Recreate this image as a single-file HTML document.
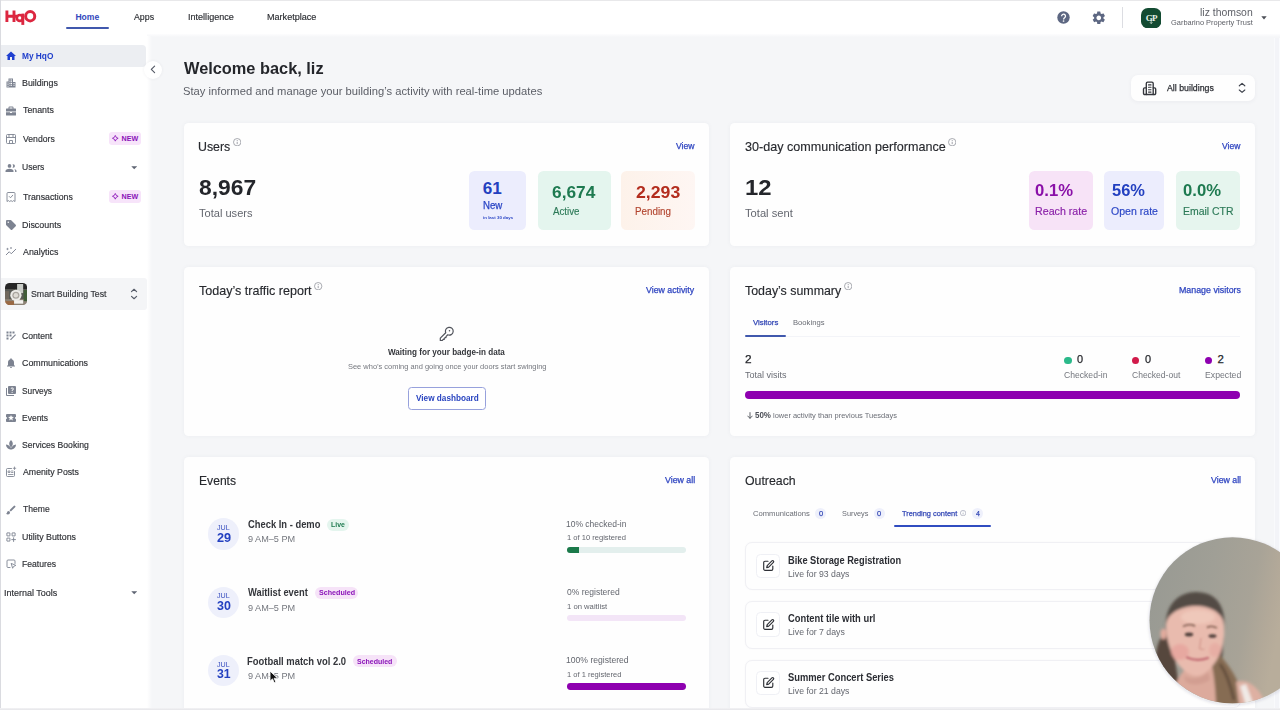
<!DOCTYPE html>
<html>
<head>
<meta charset="utf-8">
<title>HqO</title>
<style>
*{box-sizing:border-box;margin:0;padding:0}
html,body{width:1280px;height:710px;overflow:hidden;background:#f5f6f8;font-family:"Liberation Sans",sans-serif}
#root{position:relative;width:1280px;height:710px;overflow:hidden;background:#f5f6f8}
.a{position:absolute}
.a>svg{display:block}
.t{position:absolute;white-space:nowrap;transform-origin:0 50%}
.card{position:absolute;background:#fefefe;border-radius:4.500px;box-shadow:0 0 4px rgba(60,70,100,.05)}
</style>
</head>
<body>
<div id="root">
<div class="a" style="left:0;top:0;width:1280px;height:33.500px;background:#fff;border-top:1px solid #e8e8ea"></div>
<div class="a" style="left:0;top:33.500px;width:1280px;height:3px;background:linear-gradient(#fdfdfe,#f5f6f8)"></div>
<svg class="a" style="left:5px;top:9.400px" width="33" height="17" viewBox="5 9 33 17">
 <g fill="none" stroke="#dc2740" stroke-width="2.900">
  <path d="M6.900 10.400V22.100M14 10.400V22.100M6.900 16.300H17"/>
  <path d="M22.800 13.600V24.900"/>
  <ellipse cx="19.800" cy="17.900" rx="3" ry="2.900" stroke-width="2.700"/>
  <ellipse cx="30.200" cy="16.250" rx="4.550" ry="4.650" stroke-width="3"/>
 </g></svg>
<div class="t" style="left:75.40px;top:11.35px;font-size:8.57px;line-height:12px;font-weight:bold;color:#3348bd;transform:scaleX(1.0000)">Home</div>
<div class="a" style="left:66px;top:27.200px;width:42.800px;height:1.800px;background:#4058ad;border-radius:1px"></div>
<div class="t" style="left:133.80px;top:11.35px;font-size:8.57px;line-height:12px;font-weight:normal;-webkit-text-stroke:.15px;color:#2d2f34;transform:scaleX(1.0286)">Apps</div>
<div class="t" style="left:187.51px;top:11.35px;font-size:8.57px;line-height:12px;font-weight:normal;-webkit-text-stroke:.15px;color:#2d2f34;transform:scaleX(1.0580)">Intelligence</div>
<div class="t" style="left:266.77px;top:11.35px;font-size:8.57px;line-height:12px;font-weight:normal;-webkit-text-stroke:.15px;color:#2d2f34;transform:scaleX(1.0587)">Marketplace</div>
<svg class="a" style="left:1057px;top:11px" width="13" height="13" viewBox="0 0 13 13"><circle cx="6.500" cy="6.500" r="6.200" fill="#5d6782"/><path d="M4.600 5.200a1.950 1.950 0 1 1 3 1.600c-.7.500-1 .8-1 1.600" fill="none" stroke="#fff" stroke-width="1.300"/><circle cx="6.550" cy="10" r=".85" fill="#fff"/></svg>
<svg class="a" style="left:1090.900px;top:9.600px" width="15.600" height="15.600" viewBox="0 0 24 24"><path fill="#5d6782" d="M19.140 12.940c.04-.3.060-.610.060-.940 0-.320-.020-.640-.070-.940l2.030-1.580a.490.490 0 0 0 .120-.610l-1.920-3.320a.488.488 0 0 0-.590-.220l-2.390.960c-.5-.380-1.030-.7-1.620-.940l-.360-2.540a.484.484 0 0 0-.480-.410h-3.840c-.240 0-.430.170-.470.410l-.360 2.540c-.590.240-1.130.570-1.620.940l-2.390-.960c-.220-.080-.470 0-.590.220L2.740 8.870c-.120.210-.080.470.120.610l2.030 1.580c-.050.3-.090.630-.090.940s.020.640.070.940l-2.030 1.580a.490.490 0 0 0-.120.610l1.920 3.320c.12.220.370.290.590.220l2.390-.960c.5.380 1.030.7 1.620.940l.360 2.540c.050.240.240.410.480.410h3.840c.240 0 .440-.170.470-.410l.360-2.540c.590-.240 1.130-.560 1.620-.940l2.390.960c.220.080.470 0 .590-.220l1.920-3.320c.12-.220.070-.470-.120-.610l-2.010-1.580zM12 15.600c-1.980 0-3.600-1.620-3.600-3.600s1.620-3.600 3.600-3.600 3.600 1.620 3.600 3.600-1.620 3.600-3.600 3.600z"/></svg>
<div class="a" style="left:1121.600px;top:6.500px;width:1.200px;height:21.500px;background:#dcdde2"></div>
<svg class="a" style="left:1140.800px;top:7.500px" width="20.400" height="20.400" viewBox="0 0 20.400 20.400"><rect width="20.400" height="20.400" rx="7" fill="#134b32"/><text x="10.200" y="12.900" text-anchor="middle" font-family="Liberation Serif" font-weight="bold" font-size="9" fill="#e6f2e8" letter-spacing="-.7">GP</text><path d="M10.200 12.300v3.200M9 14.300l1.200 1.300 1.200-1.300" stroke="#e9f1ea" stroke-width=".7" fill="none"/></svg>
<div class="t" style="left:1200.32px;top:4.75px;font-size:11.43px;line-height:15px;font-weight:normal;color:#5f6168;transform:scaleX(0.9120)">liz thomson</div>
<div class="t" style="left:1170.53px;top:17.05px;font-size:7.86px;line-height:11px;font-weight:normal;color:#5f6168;transform:scaleX(0.9453)">Garbarino Property Trust</div>
<svg class="a" style="left:1260.500px;top:15.800px" width="6" height="4" viewBox="0 0 6 4"><path d="M.3 .3h5.400L3 3.500z" fill="#4c4f57"/></svg>
<div class="a" style="left:0;top:33.500px;width:147px;height:676.500px;background:#fff"></div>
<div class="a" style="left:147px;top:36px;width:5px;height:674px;background:linear-gradient(90deg,#fff,#f5f6f8)"></div>
<div class="a" style="left:0;top:0;width:1px;height:710px;background:#dadbe0"></div>
<div class="a" style="left:1px;top:45px;width:145.400px;height:21.500px;background:#eceef2;border-radius:0 4px 4px 0"></div>
<div class="a" style="left:5.2px;top:50px;width:12px;height:12px"><svg width="12" height="12" viewBox="0 0 24 24"><path fill="#1f3fd0" d="M10 20v-6h4v6h5v-8h3L12 3 2 12h3v8z"/></svg></div>
<div class="t" style="left:22.11px;top:49.85px;font-size:8.57px;line-height:12px;font-weight:bold;color:#1f3ecb;transform:scaleX(0.9714)">My HqO</div>
<div class="a" style="left:5.2px;top:77.2px;width:12px;height:12px"><svg width="12" height="12" viewBox="0 0 24 24"><path fill="#7d8391" d="M7 3h9v7h5v11H3V9h4zm2 2v2h2V5zm3 0v2h2V5zM9 8.500v2h2v-2zm3 0v2h2v-2zM5 11v2h2v-2zm0 3.500v2h2v-2zM9 12v2h2v-2zm3 0v2h2v-2zm5 0v2h2v-2zm0 3.500v2h2v-2zM9 15.500v2h2v-2zm3 0v2h2v-2zM5 18v1.500h2V18z" fill-rule="evenodd"/></svg></div>
<div class="t" style="left:22.08px;top:76.85px;font-size:8.57px;line-height:12px;font-weight:normal;-webkit-text-stroke:.15px;color:#2d2f34;transform:scaleX(1.0324)">Buildings</div>
<div class="a" style="left:5.2px;top:104.7px;width:12px;height:12px"><svg width="12" height="12" viewBox="0 0 24 24"><path fill="#7d8391" d="M9 3h6a2 2 0 0 1 2 2v2h4a1 1 0 0 1 1 1v5H2V8a1 1 0 0 1 1-1h4V5a2 2 0 0 1 2-2zm0 2v2h6V5zM2 14.500h8V16h4v-1.500h8V20a1 1 0 0 1-1 1H3a1 1 0 0 1-1-1z" fill-rule="evenodd"/></svg></div>
<div class="t" style="left:22.60px;top:104.35px;font-size:8.57px;line-height:12px;font-weight:normal;-webkit-text-stroke:.15px;color:#2d2f34;transform:scaleX(1.0286)">Tenants</div>
<div class="a" style="left:5.2px;top:132.6px;width:12px;height:12px"><svg width="12" height="12" viewBox="0 0 24 24" fill="none" stroke="#7d8391" stroke-width="1.800"><rect x="3" y="3" width="18" height="18" rx="2"/><path d="M3 9h18M8 3v6M16 3v6M9 21v-6h6v6"/></svg></div>
<div class="t" style="left:22.60px;top:132.55px;font-size:8.57px;line-height:12px;font-weight:normal;-webkit-text-stroke:.15px;color:#2d2f34;transform:scaleX(1.0112)">Vendors</div>
<div class="a" style="left:109.300px;top:132.4px;width:31.700px;height:12.300px;border-radius:3px;background:#f7e4fa"></div>
<div class="a" style="left:112.200px;top:135.25px;width:6.600px;height:6.600px"><svg width="6.600" height="6.600" viewBox="0 0 10 10"><path d="M5 .7Q5.700 4.300 9.300 5 5.700 5.700 5 9.300 4.300 5.700 .7 5 4.300 4.300 5 .7z" fill="none" stroke="#8a12b8" stroke-width="1.300" stroke-linejoin="round"/></svg></div>
<div class="t" style="left:121.50px;top:134.05px;font-size:7.14px;line-height:10px;font-weight:bold;color:#8a12b8;transform:scaleX(1.0000)">NEW</div>
<div class="a" style="left:5.2px;top:161.7px;width:12px;height:12px"><svg width="12" height="12" viewBox="0 0 24 24"><path fill="#7d8391" d="M9 11.500a3.700 3.700 0 1 0 0-7.400 3.700 3.700 0 0 0 0 7.400zm0 2c-2.800 0-8 1.400-8 4.100V20h16v-2.400c0-2.700-5.200-4.100-8-4.100zm7.300-2a3.400 3.400 0 0 0 0-7.200c-.4 0-.8.100-1.200.2a5.400 5.400 0 0 1 0 6.800c.4.100.8.200 1.200.2zm2.200 2.400c1 .9 1.700 2 1.700 3.500V20H23v-2.400c0-2-2.400-3.200-4.500-3.700z"/></svg></div>
<div class="t" style="left:22.10px;top:161.45px;font-size:8.57px;line-height:12px;font-weight:normal;-webkit-text-stroke:.15px;color:#2d2f34;transform:scaleX(1.0023)">Users</div>
<svg class="a" style="left:130.7px;top:166.1px" width="6.400" height="3.600" viewBox="0 0 6.400 3.600"><path d="M.3 .3h5.800L3.200 3.300z" fill="#5f6573"/></svg>
<div class="a" style="left:5.2px;top:191px;width:12px;height:12px"><svg width="12" height="12" viewBox="0 0 24 24" fill="none" stroke="#7d8391" stroke-width="1.800" stroke-linejoin="round"><path d="M4 21V5a2 2 0 0 1 2-2h12a2 2 0 0 1 2 2v16l-2.700-1.800L14.700 21 12 19.200 9.300 21l-2.600-1.800z"/><path d="M8.500 11l2.500 2.500 4.500-5" stroke-linecap="round"/></svg></div>
<div class="t" style="left:22.60px;top:190.55px;font-size:8.57px;line-height:12px;font-weight:normal;-webkit-text-stroke:.15px;color:#2d2f34;transform:scaleX(1.0227)">Transactions</div>
<div class="a" style="left:109.300px;top:190.3px;width:31.700px;height:12.300px;border-radius:3px;background:#f7e4fa"></div>
<div class="a" style="left:112.200px;top:193.15px;width:6.600px;height:6.600px"><svg width="6.600" height="6.600" viewBox="0 0 10 10"><path d="M5 .7Q5.700 4.300 9.300 5 5.700 5.700 5 9.300 4.300 5.700 .7 5 4.300 4.300 5 .7z" fill="none" stroke="#8a12b8" stroke-width="1.300" stroke-linejoin="round"/></svg></div>
<div class="t" style="left:121.50px;top:191.95px;font-size:7.14px;line-height:10px;font-weight:bold;color:#8a12b8;transform:scaleX(1.0000)">NEW</div>
<div class="a" style="left:5.2px;top:218.7px;width:12px;height:12px"><svg width="12" height="12" viewBox="0 0 24 24"><path fill="#7d8391" d="M21.400 11.600l-9-9A2 2 0 0 0 11 2H4a2 2 0 0 0-2 2v7c0 .6.200 1.100.6 1.400l9 9a2 2 0 0 0 2.800 0l7-7a2 2 0 0 0 0-2.800zM6.500 8A1.500 1.500 0 1 1 6.500 5a1.500 1.500 0 0 1 0 3z"/></svg></div>
<div class="t" style="left:22.08px;top:218.55px;font-size:8.57px;line-height:12px;font-weight:normal;-webkit-text-stroke:.15px;color:#2d2f34;transform:scaleX(1.0405)">Discounts</div>
<div class="a" style="left:5.2px;top:246px;width:12px;height:12px"><svg width="12" height="12" viewBox="0 0 24 24" fill="none" stroke="#7d8391" stroke-width="1.900" stroke-linecap="round" stroke-linejoin="round"><path d="M2.500 17.500l6-6 4 4 9-9"/><path d="M5 4.500v3M3.500 6h3M12 3v2M11 4h2" stroke-width="1.400"/></svg></div>
<div class="t" style="left:22.60px;top:245.85px;font-size:8.57px;line-height:12px;font-weight:normal;-webkit-text-stroke:.15px;color:#2d2f34;transform:scaleX(1.0324)">Analytics</div>
<div class="a" style="left:1px;top:278.200px;width:146px;height:31.700px;background:#f4f5f7;border-radius:0 3px 3px 0"></div>
<svg class="a" style="left:4.800px;top:282.700px" width="22.200" height="22.200" viewBox="0 0 22 22">
 <defs><clipPath id="thc"><rect width="22" height="22" rx="4.500"/></clipPath><filter id="thb"><feGaussianBlur stdDeviation=".55"/></filter></defs>
 <g clip-path="url(#thc)"><g filter="url(#thb)">
  <rect x="-2" y="-2" width="26" height="26" fill="#595a54"/>
  <rect x="-2" y="-2" width="26" height="8" fill="#262827"/>
  <rect x="12" y="1" width="6" height="9" fill="#c9ccc8"/>
  <rect x="-2" y="8" width="6" height="9" fill="#6f685d"/>
  <rect x="-2" y="16" width="26" height="8" fill="#8d8376"/>
  <rect x="0" y="18" width="9" height="5" fill="#9a6a45"/>
  <rect x="18.500" y="7" width="5" height="11" fill="#3f5c38"/>
  <circle cx="10.800" cy="12.200" r="5.600" fill="#ecebe8"/>
  <circle cx="10.800" cy="12.200" r="3.500" fill="#a9a59f"/>
  <circle cx="10.800" cy="12.200" r="2.200" fill="#dedbd5"/>
  <rect x="9" y="17" width="9" height="3.500" fill="#f3f2ef"/>
 </g></g></svg>
<div class="t" style="left:31.44px;top:287.65px;font-size:8.57px;line-height:12px;font-weight:normal;-webkit-text-stroke:.15px;color:#303237;transform:scaleX(1.0259)">Smart Building Test</div>
<svg class="a" style="left:130px;top:287px" width="8" height="14" viewBox="0 0 8 14" fill="none" stroke="#555b68" stroke-width="1.150" stroke-linecap="round" stroke-linejoin="round"><path d="M1.500 4.700L4.050 2.250l2.550 2.450M1.500 9.300l2.550 2.450 2.550-2.450"/></svg>
<div class="a" style="left:5.2px;top:330px;width:12px;height:12px"><svg width="12" height="12" viewBox="0 0 24 24"><g fill="#7d8391"><rect x="3" y="3" width="4" height="4"/><rect x="9" y="3" width="4" height="4"/><rect x="15" y="3" width="4" height="4"/><rect x="3" y="9" width="4" height="4"/><rect x="9" y="9" width="4" height="4"/><rect x="3" y="15" width="4" height="4"/><path d="M20.300 8.500l1.700 1.700-9.800 9.800H10.500v-1.700z"/></g></svg></div>
<div class="t" style="left:22.35px;top:329.85px;font-size:8.57px;line-height:12px;font-weight:normal;-webkit-text-stroke:.15px;color:#2d2f34;transform:scaleX(1.0084)">Content</div>
<div class="a" style="left:5.2px;top:357.3px;width:12px;height:12px"><svg width="12" height="12" viewBox="0 0 24 24"><path fill="#7d8391" d="M12 22a2 2 0 0 0 2-2h-4a2 2 0 0 0 2 2zm6-6v-5c0-3.100-1.600-5.600-4.500-6.300V4a1.500 1.500 0 0 0-3 0v.7C7.600 5.400 6 7.900 6 11v5l-2 2v1h16v-1z"/></svg></div>
<div class="t" style="left:22.34px;top:357.05px;font-size:8.57px;line-height:12px;font-weight:normal;-webkit-text-stroke:.15px;color:#2d2f34;transform:scaleX(1.0356)">Communications</div>
<div class="a" style="left:5.2px;top:384.5px;width:12px;height:12px"><svg width="12" height="12" viewBox="0 0 24 24"><path fill="#7d8391" d="M4 6H2v14a2 2 0 0 0 2 2h14v-2H4zm16-4H8a2 2 0 0 0-2 2v12a2 2 0 0 0 2 2h12a2 2 0 0 0 2-2V4a2 2 0 0 0-2-2zm-5.800 13.800a1.100 1.100 0 1 1 0-2.200 1.100 1.100 0 0 1 0 2.200zm2.500-6.100c-.7.900-1.500 1.300-1.700 2.400h-1.700c.1-1.700 1-2.300 1.700-3.100.5-.5.800-1 .6-1.700a1.300 1.300 0 0 0-2.500.3h-1.800a3.100 3.100 0 0 1 6.100-.3c.2 1-.1 1.800-.7 2.500z"/></svg></div>
<div class="t" style="left:22.36px;top:384.55px;font-size:8.57px;line-height:12px;font-weight:normal;-webkit-text-stroke:.15px;color:#2d2f34;transform:scaleX(0.9705)">Surveys</div>
<div class="a" style="left:5.2px;top:411.7px;width:12px;height:12px"><svg width="12" height="12" viewBox="0 0 24 24"><path fill="#7d8391" d="M20 12c0-1.100.9-2 2-2V6a2 2 0 0 0-2-2H4a2 2 0 0 0-2 2v4a2 2 0 0 1 0 4v4c0 1.100.9 2 2 2h16a2 2 0 0 0 2-2v-4a2 2 0 0 1-2-2zm-4.400 4.800L12 14.500l-3.600 2.300 1.100-4.100-3.300-2.700 4.300-.3L12 5.800l1.600 3.900 4.300.3-3.300 2.700z"/></svg></div>
<div class="t" style="left:22.10px;top:411.75px;font-size:8.57px;line-height:12px;font-weight:normal;-webkit-text-stroke:.15px;color:#2d2f34;transform:scaleX(0.9922)">Events</div>
<div class="a" style="left:5.2px;top:439px;width:12px;height:12px"><svg width="12" height="12" viewBox="0 0 24 24"><path fill="#7d8391" d="M12 2c2.400 2.300 3.600 5 3.600 7.600 0 1.800-.6 3.400-1.500 4.700-.6.900-1.400 1.600-2.100 2.100-.7-.5-1.500-1.200-2.100-2.100a8.300 8.300 0 0 1-1.500-4.700C8.400 7 9.600 4.300 12 2zM2 11c3.600 0 6.700 2 8.500 4.900.4.700.9 1.200 1.500 1.700.6-.5 1.100-1 1.500-1.700A10 10 0 0 1 22 11c0 5.500-4.500 10-10 10S2 16.500 2 11z"/></svg></div>
<div class="t" style="left:22.35px;top:439.15px;font-size:8.57px;line-height:12px;font-weight:normal;-webkit-text-stroke:.15px;color:#2d2f34;transform:scaleX(1.0092)">Services Booking</div>
<div class="a" style="left:5.2px;top:466.3px;width:12px;height:12px"><svg width="12" height="12" viewBox="0 0 24 24" fill="none" stroke="#7d8391" stroke-width="1.800" stroke-linecap="round" stroke-linejoin="round"><path d="M13 5H5a2 2 0 0 0-2 2v12a2 2 0 0 0 2 2h12a2 2 0 0 0 2-2v-8"/><path d="M7 10h3v3H7zM13 10h3M13 13h3M7 17h9" stroke-width="1.600"/><path d="M19 2v5M16.500 4.500h5" stroke-width="1.600"/></svg></div>
<div class="t" style="left:22.60px;top:466.35px;font-size:8.57px;line-height:12px;font-weight:normal;-webkit-text-stroke:.15px;color:#2d2f34;transform:scaleX(1.0220)">Amenity Posts</div>
<div class="a" style="left:5.2px;top:503.6px;width:12px;height:12px"><svg width="12" height="12" viewBox="0 0 24 24"><path fill="#7d8391" d="M7 14a3 3 0 0 0-3 3c0 1.300-1.200 2-2 2 .9 1.200 2.500 2 4 2a4 4 0 0 0 4-4 3 3 0 0 0-3-3zm13.700-9.400l-1.300-1.300a1 1 0 0 0-1.400 0L9 12.300 11.700 15l9-9a1 1 0 0 0 0-1.400z"/></svg></div>
<div class="t" style="left:22.60px;top:503.35px;font-size:8.57px;line-height:12px;font-weight:normal;-webkit-text-stroke:.15px;color:#2d2f34;transform:scaleX(1.0038)">Theme</div>
<div class="a" style="left:5.2px;top:531px;width:12px;height:12px"><svg width="12" height="12" viewBox="0 0 24 24" fill="none" stroke="#7d8391" stroke-width="1.800"><rect x="3.800" y="3.800" width="6" height="6" rx=".2"/><rect x="14.200" y="3.800" width="6" height="6" rx=".2"/><rect x="3.800" y="14.200" width="6" height="6" rx=".2"/><path d="M17.200 13.500v7.500M13.500 17.200H21" stroke-linecap="round"/></svg></div>
<div class="t" style="left:22.08px;top:530.85px;font-size:8.57px;line-height:12px;font-weight:normal;-webkit-text-stroke:.15px;color:#2d2f34;transform:scaleX(1.0319)">Utility Buttons</div>
<div class="a" style="left:5.2px;top:558.2px;width:12px;height:12px"><svg width="12" height="12" viewBox="0 0 24 24" fill="none" stroke="#7d8391" stroke-width="1.800" stroke-linejoin="round" stroke-linecap="round"><path d="M20 11V6a2 2 0 0 0-2-2H6a2 2 0 0 0-2 2v11a2 2 0 0 0 2 2h4"/><path d="M12.500 11.500l2.800 9 1.900-3.600 3.800-1.800z" /></svg></div>
<div class="t" style="left:22.10px;top:557.95px;font-size:8.57px;line-height:12px;font-weight:normal;-webkit-text-stroke:.15px;color:#2d2f34;transform:scaleX(1.0061)">Features</div>
<div class="t" style="left:4.31px;top:586.65px;font-size:8.57px;line-height:12px;font-weight:normal;-webkit-text-stroke:.15px;color:#2d2f34;transform:scaleX(1.0492)">Internal Tools</div>
<svg class="a" style="left:130.7px;top:591.4px" width="6.400" height="3.600" viewBox="0 0 6.400 3.600"><path d="M.3 .3h5.800L3.200 3.300z" fill="#5f6573"/></svg>
<div class="a" style="left:143.500px;top:60.700px;width:18px;height:18px;border-radius:9px;background:#fff;box-shadow:0 0 3px rgba(60,70,90,.08)"></div>
<svg class="a" style="left:149.600px;top:65.400px" width="6" height="9" viewBox="0 0 6 9" fill="none" stroke="#555a66" stroke-width="1.150" stroke-linecap="round" stroke-linejoin="round"><path d="M4.600 1.100L1.300 4.400l3.300 3.300"/></svg>
<div class="t" style="left:184.00px;top:56.75px;font-size:17.14px;line-height:23px;font-weight:bold;color:#24262b;transform:scaleX(0.9544)">Welcome back, liz</div>
<div class="t" style="left:183.41px;top:84.15px;font-size:11.43px;line-height:15px;font-weight:normal;color:#5b5e66;transform:scaleX(0.9812)">Stay informed and manage your building’s activity with real-time updates</div>
<div class="a" style="left:1130.600px;top:74.700px;width:124.700px;height:26.500px;background:#fefefe;border-radius:7px;box-shadow:0 1px 4px rgba(60,70,100,.06)"></div>
<svg class="a" style="left:1142px;top:80.600px" width="15" height="15" viewBox="0 0 15 15" fill="none" stroke="#34363c" stroke-width="1.350" stroke-linejoin="round" stroke-linecap="round"><path d="M4.300 13.500V2.400a1.300 1.300 0 0 1 1.300-1.300h4.300a1.300 1.300 0 0 1 1.300 1.300V13.500z"/><path d="M4.300 6.800H2.700a1.200 1.200 0 0 0-1.200 1.200v4.300a1.200 1.200 0 0 0 1.200 1.200h1.600M11.200 6.800h1.300a1.200 1.200 0 0 1 1.200 1.200v4.300a1.200 1.200 0 0 1-1.200 1.200h-1.300"/><path d="M6.500 3.900h2.500M6.500 6.300h2.500M6.500 8.700h2.500M6.500 11.100h2.500" stroke-width="1.100"/></svg>
<div class="t" style="left:1166.80px;top:81.65px;font-size:9.29px;line-height:13px;font-weight:normal;-webkit-text-stroke:.25px;color:#2b2d33;transform:scaleX(0.9462)">All buildings</div>
<svg class="a" style="left:1237.800px;top:81px" width="8" height="14" viewBox="0 0 8 14" fill="none" stroke="#3e424c" stroke-width="1.150" stroke-linecap="round" stroke-linejoin="round"><path d="M1.300 4.800L4.050 2.400l2.750 2.400M1.300 9L4.050 11.400 6.800 9"/></svg>
<div class="card" style="left:184.2px;top:122.7px;width:525.1px;height:123.0px"></div>
<div class="t" style="left:198.44px;top:137.85px;font-size:12.86px;line-height:17px;font-weight:normal;-webkit-text-stroke:.15px;color:#27292e;transform:scaleX(0.9612)">Users</div>
<svg class="a" style="left:232.8px;top:138.1px" width="8.4" height="8.4" viewBox="0 0 10 10"><circle cx="5" cy="5" r="4.400" fill="none" stroke="#8e9199" stroke-width=".9"/><path d="M5 4.500v2.800" stroke="#8e9199" stroke-width="1"/><circle cx="5" cy="3" r=".6" fill="#8e9199"/></svg>
<div class="t" style="left:676.10px;top:139.85px;font-size:8.57px;line-height:12px;font-weight:normal;-webkit-text-stroke:.25px;color:#2f45c0;transform:scaleX(1.0054)">View</div>
<div class="t" style="left:198.85px;top:172.25px;font-size:22.86px;line-height:30px;font-weight:bold;color:#24262b;transform:scaleX(0.9982)">8,967</div>
<div class="t" style="left:199.16px;top:205.95px;font-size:11.43px;line-height:15px;font-weight:normal;color:#63666e;transform:scaleX(0.9688)">Total users</div>
<div class="a" style="left:468.6px;top:170.8px;width:57.8px;height:59.4px;border-radius:5.500px;background:#ecedfd"></div>
<div class="t" style="left:482.80px;top:176.75px;font-size:17.14px;line-height:23px;font-weight:bold;color:#2340c0;transform:scaleX(1.0000)">61</div>
<div class="t" style="left:482.58px;top:199.35px;font-size:10px;line-height:13px;font-weight:normal;-webkit-text-stroke:.25px;color:#2a45c5;transform:scaleX(0.9641)">New</div>
<div class="t" style="left:483.05px;top:214.75px;font-size:4.4px;line-height:6px;font-weight:bold;color:#2a45c5;transform:scaleX(1.0034)">in last 30 days</div>
<div class="a" style="left:537.5px;top:171.3px;width:73.2px;height:58.9px;border-radius:5.500px;background:#e4f5ee"></div>
<div class="t" style="left:552.29px;top:180.95px;font-size:17.14px;line-height:23px;font-weight:bold;color:#1e7a50;transform:scaleX(1.0107)">6,674</div>
<div class="t" style="left:552.80px;top:205.05px;font-size:10px;line-height:13px;font-weight:normal;-webkit-text-stroke:.15px;color:#2d7a58;transform:scaleX(0.9741)">Active</div>
<div class="a" style="left:621.300px;top:171.300px;width:73.400px;height:59.200px;border-radius:5.500px;background:linear-gradient(90deg,#fdf2ea,#fef6f3)"></div>
<div class="t" style="left:635.68px;top:180.95px;font-size:17.14px;line-height:23px;font-weight:bold;color:#b32d1e;transform:scaleX(1.0323)">2,293</div>
<div class="t" style="left:635.46px;top:205.05px;font-size:10px;line-height:13px;font-weight:normal;-webkit-text-stroke:.15px;color:#b2452f;transform:scaleX(0.9803)">Pending</div>
<div class="card" style="left:730.4px;top:122.7px;width:525.0px;height:123.0px"></div>
<div class="t" style="left:744.91px;top:137.85px;font-size:12.86px;line-height:17px;font-weight:normal;-webkit-text-stroke:.15px;color:#27292e;transform:scaleX(0.9787)">30-day communication performance</div>
<svg class="a" style="left:947.8px;top:137.7px" width="8.4" height="8.4" viewBox="0 0 10 10"><circle cx="5" cy="5" r="4.400" fill="none" stroke="#8e9199" stroke-width=".9"/><path d="M5 4.500v2.800" stroke="#8e9199" stroke-width="1"/><circle cx="5" cy="3" r=".6" fill="#8e9199"/></svg>
<div class="t" style="left:1222.10px;top:139.85px;font-size:8.57px;line-height:12px;font-weight:normal;-webkit-text-stroke:.25px;color:#2f45c0;transform:scaleX(0.9946)">View</div>
<div class="t" style="left:745.03px;top:172.25px;font-size:22.86px;line-height:30px;font-weight:bold;color:#24262b;transform:scaleX(1.0435)">12</div>
<div class="t" style="left:745.16px;top:205.95px;font-size:11.43px;line-height:15px;font-weight:normal;color:#63666e;transform:scaleX(0.9773)">Total sent</div>
<div class="a" style="left:1028.5px;top:171.3px;width:64.7px;height:58.9px;border-radius:5.500px;background:#f7e3f7"></div>
<div class="t" style="left:1034.87px;top:178.65px;font-size:17.14px;line-height:23px;font-weight:bold;color:#8a10a8;transform:scaleX(0.9722)">0.1%</div>
<div class="t" style="left:1034.80px;top:204.65px;font-size:10px;line-height:13px;font-weight:normal;-webkit-text-stroke:.15px;color:#8a20a8;transform:scaleX(1.0660)">Reach rate</div>
<div class="a" style="left:1104.4px;top:171.3px;width:60.1px;height:58.9px;border-radius:5.500px;background:#ecedfd"></div>
<div class="t" style="left:1111.52px;top:178.65px;font-size:17.14px;line-height:23px;font-weight:bold;color:#2340c0;transform:scaleX(0.9594)">56%</div>
<div class="t" style="left:1111.47px;top:204.65px;font-size:10px;line-height:13px;font-weight:normal;-webkit-text-stroke:.15px;color:#2a45c5;transform:scaleX(1.0560)">Open rate</div>
<div class="a" style="left:1176.1px;top:171.3px;width:64.4px;height:58.9px;border-radius:5.500px;background:#e6f5ee"></div>
<div class="t" style="left:1182.97px;top:178.65px;font-size:17.14px;line-height:23px;font-weight:bold;color:#1e7a50;transform:scaleX(0.9722)">0.0%</div>
<div class="t" style="left:1182.92px;top:204.65px;font-size:10px;line-height:13px;font-weight:normal;-webkit-text-stroke:.15px;color:#2d7a58;transform:scaleX(1.0455)">Email CTR</div>
<div class="card" style="left:184.2px;top:267.2px;width:525.1px;height:169.0px"></div>
<div class="t" style="left:199.26px;top:281.85px;font-size:12.86px;line-height:17px;font-weight:normal;-webkit-text-stroke:.15px;color:#27292e;transform:scaleX(0.9765)">Today’s traffic report</div>
<svg class="a" style="left:314.4px;top:282.1px" width="8.4" height="8.4" viewBox="0 0 10 10"><circle cx="5" cy="5" r="4.400" fill="none" stroke="#8e9199" stroke-width=".9"/><path d="M5 4.500v2.800" stroke="#8e9199" stroke-width="1"/><circle cx="5" cy="3" r=".6" fill="#8e9199"/></svg>
<div class="t" style="left:646.40px;top:284.35px;font-size:8.57px;line-height:12px;font-weight:normal;-webkit-text-stroke:.25px;color:#2f45c0;transform:scaleX(1.0255)">View activity</div>
<svg class="a" style="left:439px;top:326.200px" width="16" height="16" viewBox="0 0 16 16" fill="none" stroke="#50535b" stroke-width="1.200" stroke-linejoin="round" stroke-linecap="round"><path d="M6.730 6.770L1.300 12.200V14.500H3.200L4.300 13.400H5.200V12.500L6.100 11.600H7V10.700L8.730 8.770A3.900 3.900 0 1 0 6.730 6.770Z"/><circle cx="10.500" cy="4.800" r=".75" fill="#50535b" stroke="none"/></svg>
<div class="t" style="left:388.30px;top:346.35px;font-size:8.57px;line-height:12px;font-weight:bold;color:#34363b;transform:scaleX(0.9474)">Waiting for your badge-in data</div>
<div class="t" style="left:347.53px;top:361.35px;font-size:7.86px;line-height:11px;font-weight:normal;color:#74777e;transform:scaleX(0.9489)">See who’s coming and going once your doors start swinging</div>
<div class="a" style="left:407.700px;top:386.600px;width:78.400px;height:23px;border:1px solid #97a1dc;border-radius:3.500px;background:#fff"></div>
<div class="t" style="left:415.86px;top:391.65px;font-size:8.57px;line-height:12px;font-weight:bold;color:#2a45c0;transform:scaleX(0.9575)">View dashboard</div>
<div class="card" style="left:730.4px;top:267.2px;width:525.0px;height:169.0px"></div>
<div class="t" style="left:745.36px;top:281.85px;font-size:12.86px;line-height:17px;font-weight:normal;-webkit-text-stroke:.15px;color:#27292e;transform:scaleX(0.9638)">Today’s summary</div>
<svg class="a" style="left:843.6px;top:282.1px" width="8.4" height="8.4" viewBox="0 0 10 10"><circle cx="5" cy="5" r="4.400" fill="none" stroke="#8e9199" stroke-width=".9"/><path d="M5 4.500v2.800" stroke="#8e9199" stroke-width="1"/><circle cx="5" cy="3" r=".6" fill="#8e9199"/></svg>
<div class="t" style="left:1178.88px;top:284.35px;font-size:8.57px;line-height:12px;font-weight:normal;-webkit-text-stroke:.25px;color:#2f45c0;transform:scaleX(1.0329)">Manage visitors</div>
<div class="t" style="left:753.00px;top:317.15px;font-size:7.86px;line-height:11px;font-weight:normal;-webkit-text-stroke:.25px;color:#3347b5;transform:scaleX(0.9882)">Visitors</div>
<div class="t" style="left:793.47px;top:317.15px;font-size:7.86px;line-height:11px;font-weight:normal;color:#696c74;transform:scaleX(0.9728)">Bookings</div>
<div class="a" style="left:786px;top:336px;width:454px;height:1px;background:#f3f4f8"></div>
<div class="a" style="left:745.100px;top:334.900px;width:40.500px;height:2px;background:#4058ad;border-radius:1px"></div>
<div class="t" style="left:744.88px;top:352.35px;font-size:11.43px;line-height:15px;font-weight:normal;-webkit-text-stroke:.25px;color:#24262b;transform:scaleX(1.0364)">2</div>
<div class="t" style="left:745.14px;top:368.55px;font-size:8.57px;line-height:12px;font-weight:normal;color:#6a6d75;transform:scaleX(1.0538)">Total visits</div>
<div class="a" style="left:1064.4px;top:356.7px;width:7.2px;height:7.2px;border-radius:50%;background:#2bb98a"></div>
<div class="t" style="left:1077.06px;top:352.35px;font-size:11.43px;line-height:15px;font-weight:normal;-webkit-text-stroke:.25px;color:#24262b;transform:scaleX(0.9565)">0</div>
<div class="t" style="left:1064.10px;top:368.55px;font-size:8.57px;line-height:12px;font-weight:normal;color:#74777e;transform:scaleX(1.0036)">Checked-in</div>
<div class="a" style="left:1131.9px;top:356.7px;width:7.2px;height:7.2px;border-radius:50%;background:#d11a4a"></div>
<div class="t" style="left:1144.56px;top:352.35px;font-size:11.43px;line-height:15px;font-weight:normal;-webkit-text-stroke:.25px;color:#24262b;transform:scaleX(0.9565)">0</div>
<div class="t" style="left:1131.60px;top:368.55px;font-size:8.57px;line-height:12px;font-weight:normal;color:#74777e;transform:scaleX(0.9938)">Checked-out</div>
<div class="a" style="left:1205.1px;top:356.7px;width:7.2px;height:7.2px;border-radius:50%;background:#8e00b0"></div>
<div class="t" style="left:1217.50px;top:352.35px;font-size:11.43px;line-height:15px;font-weight:normal;-webkit-text-stroke:.25px;color:#24262b;transform:scaleX(1.0000)">2</div>
<div class="t" style="left:1204.54px;top:368.55px;font-size:8.57px;line-height:12px;font-weight:normal;color:#74777e;transform:scaleX(1.0145)">Expected</div>
<div class="a" style="left:745.200px;top:391px;width:495.200px;height:8px;border-radius:4px;background:#8e00b0"></div>
<svg class="a" style="left:746.500px;top:411.600px" width="6" height="7" viewBox="0 0 6 7" fill="none" stroke="#4d5058" stroke-width=".9" stroke-linecap="round" stroke-linejoin="round"><path d="M3 .6v5.600M.7 4L3 6.300 5.300 4"/></svg>
<div class="t" style="left:755.27px;top:408.65px;font-size:8.57px;line-height:12px;font-weight:bold;color:#4d5058;transform:scaleX(0.9313)">50%</div>
<div class="t" style="left:773.38px;top:410.65px;font-size:7.14px;line-height:10px;font-weight:normal;color:#6a6d75;transform:scaleX(1.0499)">lower activity than previous Tuesdays</div>
<div class="card" style="left:184.2px;top:457.3px;width:525.1px;height:262.7px"></div>
<div class="t" style="left:198.56px;top:472.05px;font-size:12.86px;line-height:17px;font-weight:normal;-webkit-text-stroke:.15px;color:#27292e;transform:scaleX(0.9421)">Events</div>
<div class="t" style="left:664.90px;top:474.35px;font-size:8.57px;line-height:12px;font-weight:normal;-webkit-text-stroke:.25px;color:#2f45c0;transform:scaleX(1.0276)">View all</div>
<div class="a" style="left:207.9px;top:518.4px;width:31.600px;height:31.600px;border-radius:50%;background:#eef0fb"></div>
<div class="t" style="left:217.45px;top:523.25px;font-size:7.14px;line-height:10px;font-weight:normal;color:#3a50c0;transform:scaleX(1.0041)">JUL</div>
<div class="t" style="left:216.58px;top:529.75px;font-size:12.14px;line-height:16px;font-weight:bold;color:#2340c0;transform:scaleX(1.0480)">29</div>
<div class="t" style="left:247.63px;top:518.05px;font-size:10px;line-height:13px;font-weight:bold;color:#34363b;transform:scaleX(0.9377)">Check In - demo</div>
<div class="a" style="left:326.6px;top:519.3px;width:22.1px;height:11.800px;border-radius:6px;background:#e4f5ee"></div>
<div class="t" style="left:330.51px;top:520.35px;font-size:7.14px;line-height:10px;font-weight:bold;color:#1e7a50;transform:scaleX(0.9704)">Live</div>
<div class="t" style="left:247.57px;top:533.45px;font-size:8.57px;line-height:12px;font-weight:normal;color:#74777e;transform:scaleX(1.0651)">9 AM–5 PM</div>
<div class="t" style="left:566.46px;top:517.65px;font-size:8.57px;line-height:12px;font-weight:normal;color:#63666e;transform:scaleX(0.9925)">10% checked-in</div>
<div class="t" style="left:566.67px;top:533.45px;font-size:7.14px;line-height:10px;font-weight:normal;color:#63666e;transform:scaleX(1.0624)">1 of 10 registered</div>
<div class="a" style="left:566.700px;top:546.5px;width:119.600px;height:6.800px;border-radius:3.400px;background:#e3efed;overflow:hidden"><div style="width:12px;height:6.800px;background:#1b7a4a"></div></div>
<div class="a" style="left:207.9px;top:586.5px;width:31.600px;height:31.600px;border-radius:50%;background:#eef0fb"></div>
<div class="t" style="left:217.45px;top:591.35px;font-size:7.14px;line-height:10px;font-weight:normal;color:#3a50c0;transform:scaleX(1.0041)">JUL</div>
<div class="t" style="left:216.84px;top:597.85px;font-size:12.14px;line-height:16px;font-weight:bold;color:#2340c0;transform:scaleX(1.0275)">30</div>
<div class="t" style="left:248.10px;top:586.15px;font-size:10px;line-height:13px;font-weight:bold;color:#34363b;transform:scaleX(0.9328)">Waitlist event</div>
<div class="a" style="left:314.6px;top:586.8px;width:43.9px;height:12.200px;border-radius:6.100px;background:#f6e3f8"></div>
<div class="t" style="left:318.75px;top:588.15px;font-size:7.14px;line-height:10px;font-weight:bold;color:#8a12b8;transform:scaleX(1.0014)">Scheduled</div>
<div class="t" style="left:247.57px;top:601.55px;font-size:8.57px;line-height:12px;font-weight:normal;color:#74777e;transform:scaleX(1.0651)">9 AM–5 PM</div>
<div class="t" style="left:566.95px;top:585.75px;font-size:8.57px;line-height:12px;font-weight:normal;color:#63666e;transform:scaleX(0.9962)">0% registered</div>
<div class="t" style="left:566.66px;top:601.55px;font-size:7.14px;line-height:10px;font-weight:normal;color:#63666e;transform:scaleX(1.0776)">1 on waitlist</div>
<div class="a" style="left:566.700px;top:614.6px;width:119.600px;height:6.800px;border-radius:3.400px;background:#f3e5f7;overflow:hidden"></div>
<div class="a" style="left:207.9px;top:654.9px;width:31.600px;height:31.600px;border-radius:50%;background:#eef0fb"></div>
<div class="t" style="left:217.45px;top:659.75px;font-size:7.14px;line-height:10px;font-weight:normal;color:#3a50c0;transform:scaleX(1.0041)">JUL</div>
<div class="t" style="left:216.85px;top:666.25px;font-size:12.14px;line-height:16px;font-weight:bold;color:#2340c0;transform:scaleX(1.0077)">31</div>
<div class="t" style="left:247.39px;top:654.55px;font-size:10px;line-height:13px;font-weight:bold;color:#34363b;transform:scaleX(0.9427)">Football match vol 2.0</div>
<div class="a" style="left:352.8px;top:655.2px;width:44.4px;height:12.200px;border-radius:6.100px;background:#f6e3f8"></div>
<div class="t" style="left:357.45px;top:656.55px;font-size:7.14px;line-height:10px;font-weight:bold;color:#8a12b8;transform:scaleX(0.9816)">Scheduled</div>
<div class="t" style="left:247.57px;top:669.95px;font-size:8.57px;line-height:12px;font-weight:normal;color:#74777e;transform:scaleX(1.0651)">9 AM–5 PM</div>
<div class="t" style="left:566.45px;top:654.15px;font-size:8.57px;line-height:12px;font-weight:normal;color:#63666e;transform:scaleX(1.0049)">100% registered</div>
<div class="t" style="left:566.67px;top:669.95px;font-size:7.14px;line-height:10px;font-weight:normal;color:#63666e;transform:scaleX(1.0554)">1 of 1 registered</div>
<div class="a" style="left:566.700px;top:683.0px;width:119.600px;height:6.800px;border-radius:3.400px;background:#8e00b0;overflow:hidden"></div>
<svg class="a" style="left:268.500px;top:670px" width="10" height="14" viewBox="0 0 10 14"><path d="M1 1v10.200l2.500-2.300 1.700 3.900 1.700-.8-1.700-3.700h3.500z" fill="#111" stroke="#fff" stroke-width=".9" stroke-linejoin="round"/></svg>
<div class="card" style="left:730.4px;top:457.3px;width:525.0px;height:262.7px"></div>
<div class="t" style="left:744.92px;top:472.05px;font-size:12.86px;line-height:17px;font-weight:normal;-webkit-text-stroke:.15px;color:#27292e;transform:scaleX(0.9585)">Outreach</div>
<div class="t" style="left:1210.90px;top:474.35px;font-size:8.57px;line-height:12px;font-weight:normal;-webkit-text-stroke:.25px;color:#2f45c0;transform:scaleX(1.0241)">View all</div>
<div class="t" style="left:752.51px;top:507.65px;font-size:7.86px;line-height:11px;font-weight:normal;color:#696c74;transform:scaleX(0.9714)">Communications</div>
<div class="a" style="left:814.9px;top:507.6px;width:11.600px;height:11.600px;border-radius:50%;background:#eef0fb"></div>
<div class="t" style="left:818.56px;top:507.75px;font-size:7.86px;line-height:11px;font-weight:normal;-webkit-text-stroke:.25px;color:#3347b5;transform:scaleX(0.9500)">0</div>
<div class="t" style="left:842.13px;top:507.65px;font-size:7.86px;line-height:11px;font-weight:normal;color:#696c74;transform:scaleX(0.9309)">Surveys</div>
<div class="a" style="left:873.5px;top:507.6px;width:11.600px;height:11.600px;border-radius:50%;background:#eef0fb"></div>
<div class="t" style="left:877.16px;top:507.75px;font-size:7.86px;line-height:11px;font-weight:normal;-webkit-text-stroke:.25px;color:#3347b5;transform:scaleX(0.9500)">0</div>
<div class="t" style="left:902.10px;top:507.65px;font-size:7.86px;line-height:11px;font-weight:normal;-webkit-text-stroke:.25px;color:#3347b5;transform:scaleX(0.9413)">Trending content</div>
<svg class="a" style="left:959.6px;top:509.7px" width="6.2" height="6.2" viewBox="0 0 10 10"><circle cx="5" cy="5" r="4.400" fill="none" stroke="#8e93a8" stroke-width=".9"/><path d="M5 4.500v2.800" stroke="#8e93a8" stroke-width="1"/><circle cx="5" cy="3" r=".6" fill="#8e93a8"/></svg>
<div class="a" style="left:971.6px;top:507.6px;width:11.600px;height:11.600px;border-radius:50%;background:#eef0fb"></div>
<div class="t" style="left:975.50px;top:507.75px;font-size:7.86px;line-height:11px;font-weight:normal;-webkit-text-stroke:.25px;color:#3347b5;transform:scaleX(0.8941)">4</div>
<div class="a" style="left:894.100px;top:525.300px;width:97.400px;height:2px;background:#304cc0;border-radius:1px"></div>
<div class="a" style="left:745.300px;top:542.4px;width:495.300px;height:48px;border:1px solid #f0f0f4;border-radius:7px;background:#fefefe;box-shadow:0 0 2px rgba(60,70,100,.03)"></div>
<div class="a" style="left:755.900px;top:553.6px;width:24.600px;height:24.600px;border:1px solid #eff0f5;border-radius:4.500px;background:#fff"></div>
<div class="a" style="left:762.300px;top:559.2px;width:13px;height:13px"><svg width="13" height="13" viewBox="0 0 13 13" fill="none" stroke="#2e3036" stroke-width="1.150" stroke-linejoin="round" stroke-linecap="round"><path d="M6 2.200H3a1.300 1.300 0 0 0-1.300 1.300v6.500A1.300 1.300 0 0 0 3 11.300h6.500a1.300 1.300 0 0 0 1.300-1.300V7"/><path d="M5.200 6.600L9.900 1.900a1 1 0 0 1 1.500 1.500L6.700 8.100l-2 .5z"/></svg></div>
<div class="t" style="left:787.91px;top:553.85px;font-size:10px;line-height:13px;font-weight:bold;color:#2b2d33;transform:scaleX(0.9256)">Bike Storage Registration</div>
<div class="t" style="left:787.84px;top:567.65px;font-size:8.57px;line-height:12px;font-weight:normal;color:#63666e;transform:scaleX(1.0168)">Live for 93 days</div>
<div class="a" style="left:745.300px;top:601px;width:495.300px;height:48px;border:1px solid #f0f0f4;border-radius:7px;background:#fefefe;box-shadow:0 0 2px rgba(60,70,100,.03)"></div>
<div class="a" style="left:755.900px;top:612.2px;width:24.600px;height:24.600px;border:1px solid #eff0f5;border-radius:4.500px;background:#fff"></div>
<div class="a" style="left:762.300px;top:617.8px;width:13px;height:13px"><svg width="13" height="13" viewBox="0 0 13 13" fill="none" stroke="#2e3036" stroke-width="1.150" stroke-linejoin="round" stroke-linecap="round"><path d="M6 2.200H3a1.300 1.300 0 0 0-1.300 1.300v6.500A1.300 1.300 0 0 0 3 11.300h6.500a1.300 1.300 0 0 0 1.300-1.300V7"/><path d="M5.200 6.600L9.900 1.900a1 1 0 0 1 1.500 1.500L6.700 8.100l-2 .5z"/></svg></div>
<div class="t" style="left:788.13px;top:612.45px;font-size:10px;line-height:13px;font-weight:bold;color:#2b2d33;transform:scaleX(0.9366)">Content tile with url</div>
<div class="t" style="left:787.83px;top:626.25px;font-size:8.57px;line-height:12px;font-weight:normal;color:#63666e;transform:scaleX(1.0202)">Live for 7 days</div>
<div class="a" style="left:745.300px;top:659.5px;width:495.300px;height:48px;border:1px solid #f0f0f4;border-radius:7px;background:#fefefe;box-shadow:0 0 2px rgba(60,70,100,.03)"></div>
<div class="a" style="left:755.900px;top:670.7px;width:24.600px;height:24.600px;border:1px solid #eff0f5;border-radius:4.500px;background:#fff"></div>
<div class="a" style="left:762.300px;top:676.3px;width:13px;height:13px"><svg width="13" height="13" viewBox="0 0 13 13" fill="none" stroke="#2e3036" stroke-width="1.150" stroke-linejoin="round" stroke-linecap="round"><path d="M6 2.200H3a1.300 1.300 0 0 0-1.300 1.300v6.500A1.300 1.300 0 0 0 3 11.300h6.500a1.300 1.300 0 0 0 1.300-1.300V7"/><path d="M5.200 6.600L9.900 1.900a1 1 0 0 1 1.500 1.500L6.700 8.100l-2 .5z"/></svg></div>
<div class="t" style="left:788.37px;top:670.95px;font-size:10px;line-height:13px;font-weight:bold;color:#2b2d33;transform:scaleX(0.9348)">Summer Concert Series</div>
<div class="t" style="left:787.84px;top:684.75px;font-size:8.57px;line-height:12px;font-weight:normal;color:#63666e;transform:scaleX(1.0168)">Live for 21 days</div>
<div class="a" style="left:1274px;top:38px;width:6px;height:672px;background:#f3f4f8"></div>
<div class="a" style="left:1273.500px;top:38px;width:1px;height:672px;background:#f9fafc"></div>
<div class="a" style="left:1278.500px;top:38px;width:1.500px;height:672px;background:#fafbfd"></div>
<div class="a" style="left:0;top:707.800px;width:1280px;height:2.200px;background:linear-gradient(#f3f3f5,#e6e6e9)"></div>
<svg class="a" style="left:1144px;top:532px" width="136" height="178" viewBox="1144 532 136 178">
<defs>
 <clipPath id="wc"><circle cx="1232.500" cy="620.300" r="83"/></clipPath>
 <filter id="wb" x="-20%" y="-20%" width="140%" height="140%"><feGaussianBlur stdDeviation="1.700"/></filter>
 <filter id="wb2" x="-30%" y="-30%" width="160%" height="160%"><feGaussianBlur stdDeviation=".9"/></filter>
 <filter id="wb3" x="-20%" y="-20%" width="140%" height="140%"><feGaussianBlur stdDeviation="1.600"/></filter>
 <linearGradient id="wbg" x1="0" y1="0" x2="1" y2="0.250"><stop offset="0" stop-color="#969892"/><stop offset=".5" stop-color="#a09f96"/><stop offset=".78" stop-color="#a8a397"/><stop offset=".92" stop-color="#b3a999"/><stop offset="1" stop-color="#b8ad9b"/></linearGradient>
</defs>
<circle cx="1232.500" cy="621.500" r="83.600" fill="rgba(40,40,60,.13)" filter="url(#wb3)"/>
<g clip-path="url(#wc)">
 <rect x="1140" y="530" width="150" height="185" fill="url(#wbg)"/>
 <g filter="url(#wb)">
  
  <!-- hair back / left side -->
  <path d="M1166 634c-3-26 10-42 30-42s31 14 28 40l-2 30h-54z" fill="#534b44"/>
  <path d="M1163 634c-7 10-10 26-4 42 3 8 8 16 14 22l6-12-8-52z" fill="#56473c"/>
  <!-- right hair flowing down -->
  <path d="M1216 652c8 6 16 18 22 30 4 8 8 16 10 24h-34c-2-10-4-18-8-26z" fill="#866c53"/>
  <path d="M1220 664c6 8 10 18 14 36" stroke="#5c4737" stroke-width="2.500" fill="none"/>
  <!-- shoulder right + strap -->
  <path d="M1236 682c10-4 22 4 28 18v12h-24z" fill="#deb0a2"/>
  <path d="M1240 686l6-2 8 22h-8z" fill="#f0eae6"/>
  <!-- neck / chest -->
  <path d="M1174 690c2-10 8-18 14-24h24c2 10 4 26 4 44h-42z" fill="#dcaa9c"/>
  <!-- face -->
  <path d="M1166 626c0-12 14-20 30-20s28 8 28 20c1 14-2 28-10 38-6 8-12 12-17 12-7 0-16-6-23-18-5-10-8-22-8-32z" fill="#e9bbae"/>
  <ellipse cx="1163.500" cy="634" rx="3" ry="5.500" fill="#e2ab9e"/>
  <ellipse cx="1180" cy="652" rx="9" ry="8" fill="#e6a29b" opacity=".75"/>
  <ellipse cx="1215" cy="650" rx="6" ry="7" fill="#e6a59d" opacity=".6"/>
  <ellipse cx="1198" cy="617" rx="17" ry="7" fill="#efc8ba"/>
  <path d="M1184 676q13 6 24-4l2 8q-14 8-24 2z" fill="#cf9b8e" opacity=".8"/>
 </g>
 <g filter="url(#wb2)">
  <ellipse cx="1189" cy="634.500" rx="4.200" ry="1.900" fill="#4f3f3a"/>
  <ellipse cx="1212.500" cy="636" rx="4" ry="1.800" fill="#4f3f3a"/>
  <path d="M1183 626.500q6-3.500 12-.5M1207 627.500q5-2.500 10 .5" stroke="#6b4b3e" stroke-width="1.400" fill="none"/>
  <path d="M1187 657.500q10 4.500 21 .5" stroke="#c26a72" stroke-width="2.200" fill="none" stroke-linecap="round"/>
  <path d="M1201 638l-1.500 10.500q2 1.500 5 .5" stroke="#d49a8e" stroke-width="1.300" fill="none"/>
 </g>
</g>
</svg>
</div>
</body>
</html>
